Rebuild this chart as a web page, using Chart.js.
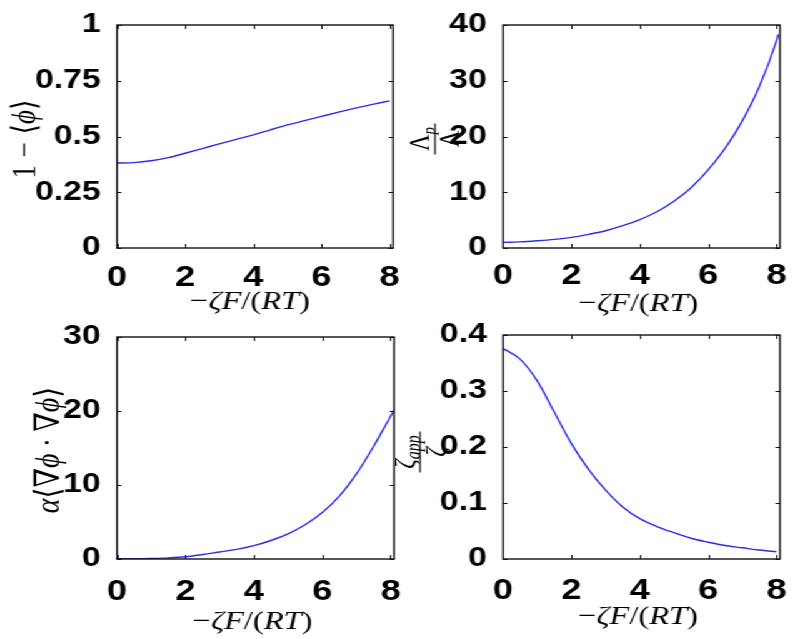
<!DOCTYPE html>
<html>
<head>
<meta charset="utf-8">
<script src="https://cdn.jsdelivr.net/npm/chart.js@4.4.1/dist/chart.umd.min.js"></script>
<style>
  html, body { margin: 0; padding: 0; background: #fff; }
  /* the figure is stretched horizontally, like the reference */
  #stage { position: absolute; left: 0; top: 0; width: 640px; height: 639px; transform: scaleX(1.25); transform-origin: 0 0; }
  #stage canvas { position: absolute; }
</style>
</head>
<body>
<div id="stage">
  <canvas id="porosity" width="324" height="320" style="left:0;top:0"></canvas>
  <canvas id="lambdaRatio" width="324" height="320" style="left:316px;top:0"></canvas>
  <canvas id="gradient" width="324" height="319" style="left:0;top:320px"></canvas>
  <canvas id="zetaRatio" width="324" height="319" style="left:316px;top:320px"></canvas>
</div>
<script>
const xTicks = [0, 2, 4, 6, 8];

const xPorosity = [0, 0.5, 1, 1.5, 2, 2.5, 3, 3.5, 4, 4.5, 5, 5.5, 6, 6.5, 7, 7.5, 8];
const porosity = [0.381, 0.383, 0.391, 0.405, 0.425, 0.446, 0.467, 0.487, 0.507, 0.530, 0.552, 0.571, 0.590, 0.609, 0.627, 0.644, 0.660];
const yTicksPorosity = [0, 0.25, 0.5, 0.75, 1];

const xLambda = [0, 0.5, 1, 1.5, 2, 2.5, 3, 3.5, 4, 4.5, 5, 5.5, 6, 6.5, 7, 7.5, 8, 8.05];
const lambdaRatio = [1.0, 1.1, 1.3, 1.55, 1.9, 2.45, 3.1, 4.0, 5.1, 6.5, 8.4, 10.8, 14.0, 17.9, 22.8, 29.0, 37.2, 38.3];
const yTicksLambda = [0, 10, 20, 30, 40];

const xGradient = [0, 0.5, 1, 1.5, 2, 2.5, 3, 3.5, 4, 4.5, 5, 5.5, 6, 6.5, 7, 7.5, 8, 8.1];
const gradient = [0.05, 0.05, 0.08, 0.15, 0.3, 0.6, 0.95, 1.3, 1.8, 2.5, 3.4, 4.62, 6.27, 8.5, 11.5, 15.2, 19.3, 20.1];
const yTicksGradient = [0, 10, 20, 30];

const xZeta = [0, 0.5, 1, 1.5, 2, 2.5, 3, 3.5, 4, 4.5, 5, 5.5, 6, 6.5, 7, 7.5, 8];
const zetaRatio = [0.376, 0.357, 0.318, 0.262, 0.206, 0.160, 0.123, 0.093, 0.072, 0.058, 0.047, 0.037, 0.030, 0.024, 0.020, 0.016, 0.013];
const yTicksZeta = [0, 0.1, 0.2, 0.3, 0.4];

const serif = '"Liberation Serif", "DejaVu Serif", "DejaVu Sans", serif';
const sans = '"Liberation Sans", Arial, sans-serif';

// math text: [text, kind] where kind r = roman, i = italic, s = subscript, g = gap in em
const xTitleSegs = [['−', 'r'], ['ζF', 'i'], ['/', 'r'], ['(', 'r'], ['RT', 'i'], [')', 'r']];

const segFont = (kind, size) => {
    if (kind === 'i') return `italic ${size}px ${serif}`;
    if (kind === 's') return `italic ${Math.round(size * 0.65)}px ${serif}`;
    return `${size}px ${serif}`;
};
const segWidth = (ctx, seg, size) => {
    if (seg[1] === 'g') return seg[0] * size;
    ctx.font = segFont(seg[1], size);
    return ctx.measureText(seg[0]).width;
};
const totalWidth = (ctx, segs, size) => segs.reduce((s, seg) => s + segWidth(ctx, seg, size), 0);
const drawSegs = (ctx, segs, x0, base, size) => {
    let x = x0;
    segs.forEach(seg => {
        const w = segWidth(ctx, seg, size);
        if (seg[1] !== 'g') {
            ctx.font = segFont(seg[1], size);
            ctx.fillText(seg[0], x, seg[1] === 's' ? base + size * 0.22 : base);
        }
        x += w;
    });
};

const frame = {
    id: 'frame',
    afterDraw(chart, args, o) {
        const {ctx, chartArea: a} = chart;
        const sx = chart.scales.x, sy = chart.scales.y;
        ctx.save();
        ctx.strokeStyle = '#111';
        ctx.lineWidth = 1;
        ctx.beginPath();
        sx.ticks.forEach(t => {
            const px = Math.round(sx.getPixelForValue(t.value)) + 0.5;
            ctx.moveTo(px, a.bottom); ctx.lineTo(px, a.bottom - 4);
            ctx.moveTo(px, a.top); ctx.lineTo(px, a.top + 4);
        });
        sy.ticks.forEach(t => {
            const py = Math.round(sy.getPixelForValue(t.value)) + 0.5;
            ctx.moveTo(a.left, py); ctx.lineTo(a.left + 3.5, py);
            ctx.moveTo(a.right, py); ctx.lineTo(a.right - 3.5, py);
        });
        ctx.stroke();
        ctx.lineWidth = 1.4;
        ctx.strokeRect(a.left, a.top, a.right - a.left, a.bottom - a.top);

        ctx.fillStyle = '#000';
        ctx.textAlign = 'left';
        ctx.textBaseline = 'alphabetic';
        const xt = o.xTitle;
        const wx = totalWidth(ctx, xTitleSegs, xt.size);
        drawSegs(ctx, xTitleSegs, xt.x - wx / 2, xt.y + xt.size * 0.235, xt.size);

        const yt = o.yTitle;
        ctx.translate(yt.x, yt.y);
        ctx.rotate(-Math.PI / 2);
        if (yt.den) {
            const wn = totalWidth(ctx, yt.num, yt.size), wd = totalWidth(ctx, yt.den, yt.size);
            const bar = Math.max(wn, wd) + yt.size * 0.3;
            drawSegs(ctx, yt.num, -wn / 2, -yt.size * 0.2, yt.size);
            drawSegs(ctx, yt.den, -wd / 2, yt.size * 0.82, yt.size);
            ctx.lineWidth = 1.2;
            ctx.beginPath();
            ctx.moveTo(-bar / 2, 0); ctx.lineTo(bar / 2, 0);
            ctx.stroke();
        } else {
            const w = totalWidth(ctx, yt.segs, yt.size);
            drawSegs(ctx, yt.segs, -w / 2, yt.size * 0.235, yt.size);
        }
        ctx.restore();
    }
};

const configCurve = (xs, ys, yTicks, geo, titles) => {
    return {
        type: 'line',
        data: {
            datasets: [{
                data: xs.map((x, i) => ({x: x, y: ys[i]})),
                borderColor: '#2b2bef',
                borderWidth: 1.4,
                pointRadius: 0,
                cubicInterpolationMode: 'monotone',
                fill: false
            }]
        },
        options: {
            responsive: false,
            animation: false,
            events: [],
            layout: {padding: {left: 0, top: geo.top, right: geo.W - geo.right, bottom: 0}},
            plugins: {legend: {display: false}, tooltip: {enabled: false}, frame: titles},
            scales: {
                x: {
                    type: 'linear', min: 0, max: 8.1,
                    grid: {display: false}, border: {display: false},
                    ticks: {color: '#000', padding: geo.xPad, font: {family: sans, size: 29, weight: 'bold', lineHeight: 1}, callback: v => String(v)},
                    afterBuildTicks: s => { s.ticks = xTicks.map(v => ({value: v})); },
                    afterFit: s => { s.height = geo.H - geo.bottom; s.paddingLeft = 0; s.paddingRight = 0; }
                },
                y: {
                    type: 'linear', min: yTicks[0], max: yTicks[yTicks.length - 1],
                    grid: {display: false}, border: {display: false},
                    ticks: {color: '#000', padding: 5, font: {family: sans, size: 27, weight: 'bold', lineHeight: 1}, callback: v => String(v)},
                    afterBuildTicks: s => { s.ticks = yTicks.map(v => ({value: v})); },
                    afterFit: s => { s.width = geo.left; s.paddingTop = 0; s.paddingBottom = 0; }
                }
            }
        },
        plugins: [frame]
    };
};

new Chart(document.getElementById('porosity'), configCurve(xPorosity, porosity, yTicksPorosity,
    {W: 324, H: 320, left: 93.6, right: 314.4, top: 25, bottom: 248, xPad: 7.5},
    {xTitle: {x: 200, y: 303, size: 26},
     yTitle: {x: 21.6, y: 139, size: 27, segs: [['1', 'r'], [0.28, 'g'], ['−', 'r'], [0.28, 'g'], ['⟨', 'r'], ['ϕ', 'i'], ['⟩', 'r']]}}));

new Chart(document.getElementById('lambdaRatio'), configCurve(xLambda, lambdaRatio, yTicksLambda,
    {W: 324, H: 320, left: 86.4, right: 308, top: 25, bottom: 248, xPad: 5.5},
    {xTitle: {x: 194.8, y: 305, size: 26},
     yTitle: {x: 32, y: 139, size: 23, num: [['Λ', 'r'], ['p', 's']], den: [['Λ', 'r']]}}));

new Chart(document.getElementById('gradient'), configCurve(xGradient, gradient, yTicksGradient,
    {W: 324, H: 319, left: 93.6, right: 315.2, top: 17, bottom: 239, xPad: 10.5},
    {xTitle: {x: 202, y: 303, size: 26},
     yTitle: {x: 40.8, y: 130, size: 28, segs: [['α', 'i'], ['⟨', 'r'], ['∇', 'r'], ['ϕ', 'i'], [0.22, 'g'], ['·', 'r'], [0.22, 'g'], ['∇', 'r'], ['ϕ', 'i'], ['⟩', 'r']]}}));

new Chart(document.getElementById('zetaRatio'), configCurve(xZeta, zetaRatio, yTicksZeta,
    {W: 324, H: 319, left: 86.4, right: 308, top: 15, bottom: 239, xPad: 9},
    {xTitle: {x: 194.4, y: 297.5, size: 26},
     yTitle: {x: 20, y: 132, size: 24, num: [['ζ', 'i'], ['app', 's']], den: [['ζ', 'i']]}}));
</script>
</body>
</html>
